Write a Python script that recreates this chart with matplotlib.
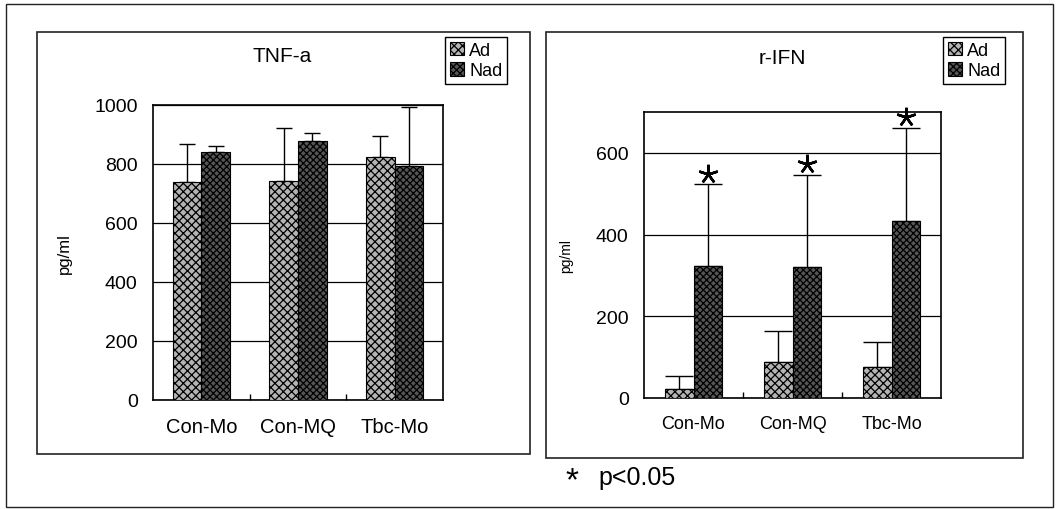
import numpy as np
import matplotlib
matplotlib.use('Agg')
import matplotlib.pyplot as plt
from matplotlib.patches import Rectangle, Patch

plt.rcParams['font.family'] = ['Liberation Sans', 'DejaVu Sans']
plt.rcParams['hatch.linewidth'] = 0.9

# Data
groups = ['Con-Mo', 'Con-MQ', 'Tbc-Mo']

tnf_ad = [740, 741, 823]
tnf_ad_sd = [128, 181, 71]
tnf_nad = [840, 879, 792]
tnf_nad_sd = [22, 26, 202]

ifn_ad = [22, 89, 77]
ifn_ad_sd = [31, 75, 60]
ifn_nad = [322, 320, 434]
ifn_nad_sd = [201, 227, 228]
ifn_sig = [True, True, True]

W, H = 1059, 510
fig = plt.figure(figsize=(W / 100, H / 100), dpi=100)


def px_rect(x0, y0, x1, y1):
    # pixel box (top-left origin) -> figure fraction
    return [x0 / W, (H - y1) / H, (x1 - x0) / W, (y1 - y0) / H]


def frame(x0, y0, x1, y1, lw=1.0):
    fig.patches.append(Rectangle((x0 / W, (H - y1) / H), (x1 - x0) / W, (y1 - y0) / H,
                                 transform=fig.transFigure, fill=False,
                                 edgecolor='#222222', linewidth=lw))


# outer and panel frames
frame(6, 5, 1053, 508, 1.0)
frame(37, 33, 530, 455, 1.2)
frame(546, 33, 1023, 459, 1.2)

ad_style = dict(facecolor='#b4b4b4', edgecolor='black', hatch='xxxx', linewidth=0.8)
nad_style = dict(facecolor='#555555', edgecolor='black', hatch='xxxxx', linewidth=0.8)


def panel(rect, ad, ad_sd, nad, nad_sd, ymax, step, bw, cap, title, tx, ty,
          fs, yfs, ylab_x, ylab_fs, leg_xy):
    ax = fig.add_axes(rect)
    x = np.arange(len(groups))
    ax.bar(x - bw / 2, ad, bw, **ad_style, zorder=3)
    ax.bar(x + bw / 2, nad, bw, **nad_style, zorder=3)
    ax.errorbar(x - bw / 2, ad, yerr=[np.zeros(len(ad)), ad_sd], fmt='none',
                ecolor='black', elinewidth=1.0, capsize=cap, capthick=1.0, zorder=2)
    ax.errorbar(x + bw / 2, nad, yerr=[np.zeros(len(nad)), nad_sd], fmt='none',
                ecolor='black', elinewidth=1.0, capsize=cap, capthick=1.0, zorder=2)
    ax.set_xlim(-0.5, len(groups) - 0.5)
    ax.set_ylim(0, ymax)
    ax.set_yticks(np.arange(0, ymax + 1, step))
    ax.yaxis.grid(True, color='black', linewidth=0.9)
    ax.set_axisbelow(True)
    ax.set_xticks(x)
    ax.set_xticklabels(groups, fontsize=fs)
    ax.set_xticks([0.5, 1.5], minor=True)
    ax.tick_params(axis='x', which='major', length=0, pad=12)
    ax.tick_params(axis='x', which='minor', length=4, direction='in', width=1)
    ax.tick_params(axis='y', length=0, pad=11, labelsize=yfs)
    for s in ax.spines.values():
        s.set_linewidth(1.2)
    ax.set_ylabel('pg/ml', fontsize=ylab_fs)
    ax.yaxis.set_label_coords(ylab_x, 0.5)
    fig.text(tx / W, 1 - ty / H, title, ha='center', va='center', fontsize=15)
    handles = [Patch(**ad_style), Patch(**nad_style)]
    ax.legend(handles, ['Ad', 'Nad'], loc='upper left',
              bbox_to_anchor=(leg_xy[0] / W, 1 - leg_xy[1] / H),
              bbox_transform=fig.transFigure, fontsize=13, fancybox=False,
              edgecolor='black', framealpha=1, handlelength=0.8, handleheight=0.8,
              handletextpad=0.3, borderpad=0.25, labelspacing=0.2, borderaxespad=0)
    return ax


ax1 = panel(px_rect(153, 106, 443, 401), tnf_ad, tnf_ad_sd, tnf_nad, tnf_nad_sd,
            1000, 200, 0.295, 6, 'TNF-a', 282, 56, 14.5, 14, -0.28, 12, (445, 38))

ax2 = panel(px_rect(644, 113, 941, 399), ifn_ad, ifn_ad_sd, ifn_nad, ifn_nad_sd,
            700, 200, 0.29, 10, 'r-IFN', 782, 58, 13, 14, -0.24, 10, (943, 38))

# significance stars above the Nad error bars
bw = 0.29
for i, sig in enumerate(ifn_sig):
    if sig:
        top = ifn_nad[i] + ifn_nad_sd[i]
        ax2.plot(i + bw / 2, top + 26, marker=(5, 2, 0), markersize=14,
                 markeredgewidth=1.8, color='black', clip_on=False, zorder=5)

fig.text(565 / W, 1 - 482 / H, '*', fontsize=24, ha='left', va='center')
fig.text(598 / W, 1 - 478 / H, 'p<0.05', fontsize=18, ha='left', va='center')

fig.savefig('out.png', dpi=100)
